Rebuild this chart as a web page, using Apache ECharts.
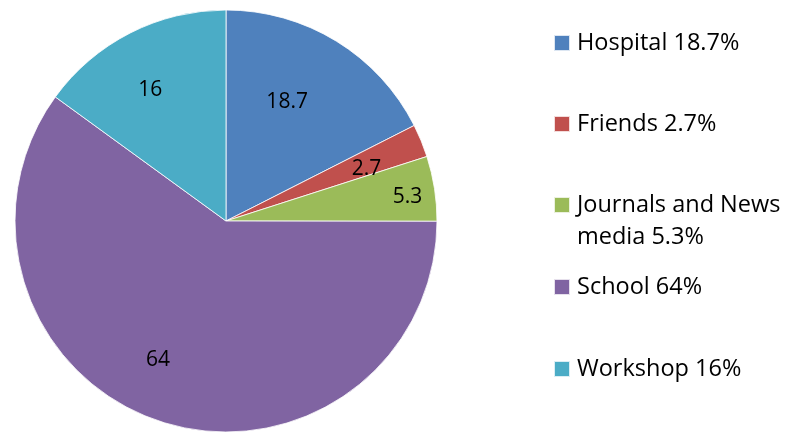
<!DOCTYPE html>
<html>
<head>
<meta charset="utf-8">
<script src="https://cdn.jsdelivr.net/npm/echarts@6/dist/echarts.min.js"></script>
<style>
  html, body { margin: 0; padding: 0; background: #fff; }
  #chart { width: 786px; height: 432px; }
</style>
</head>
<body>
<div id="chart"></div>
<script>
const categories = ['Hospital', 'Friends', 'Journals and News media', 'School', 'Workshop'];
const values = [18.7, 2.7, 5.3, 64, 16];
const legendLabels = ['Hospital 18.7%', 'Friends 2.7%', 'Journals and News\nmedia 5.3%', 'School 64%', 'Workshop 16%'];
const colors = ['#4F81BD', '#C0504D', '#9BBB59', '#8064A2', '#4BACC6'];

// value label placement: distance from centre (px) and angle nudge (deg)
const labelDist = [134, 150, 183, 155, 151];
const labelTurn = [4.4, -1.9, -1.3, -8.0, 3.1];
const legendTops = [27, 108, 157, 271, 353];
const center = [226, 221];
const radius = 211;

const total = values.reduce((a, b) => a + b, 0);
const midAngles = [];
let acc = 0;
values.forEach(v => {
  midAngles.push(90 - (acc + v / 2) / total * 360);
  acc += v;
});

const chart = echarts.init(document.getElementById('chart'));

const legends = categories.map((name, i) => {
  const twoLine = legendLabels[i].indexOf('\n') >= 0;
  return {
    data: [name],
    left: 553,
    top: legendTops[i],
    padding: 0,
    icon: 'rect',
    itemWidth: 16,
    itemHeight: 16,
    itemGap: 0,
    selectedMode: false,
    // an empty first line keeps the marker beside the first line of text
    formatter: () => twoLine ? '{e| }\n' + legendLabels[i] : legendLabels[i],
    textStyle: {
      fontFamily: 'Open Sans',
      fontSize: 23.5,
      color: '#000',
      lineHeight: 32,
      padding: [0, 0, 0, 2],
      rich: { e: { lineHeight: 32, fontSize: 10 } }
    }
  };
});

chart.setOption({
  animation: false,
  color: colors,
  legend: legends,
  series: [{
    type: 'pie',
    center: center,
    radius: [0, radius],
    startAngle: 90,
    clockwise: true,
    data: categories.map((name, i) => ({ name: name, value: values[i] })),
    itemStyle: { borderColor: 'rgba(255,255,255,0.8)', borderWidth: 1 },
    label: {
      show: true,
      position: 'inner',
      formatter: p => String(p.value),
      fontFamily: 'Open Sans',
      fontSize: 21,
      color: '#000',
      align: 'center',
      verticalAlign: 'middle'
    },
    labelLine: { show: false },
    emphasis: { disabled: true },
    labelLayout: params => {
      const i = params.dataIndex;
      const a = (midAngles[i] + labelTurn[i]) * Math.PI / 180;
      return {
        x: center[0] + labelDist[i] * Math.cos(a),
        y: center[1] - labelDist[i] * Math.sin(a),
        align: 'center',
        verticalAlign: 'middle'
      };
    }
  }]
});
</script>
</body>
</html>
